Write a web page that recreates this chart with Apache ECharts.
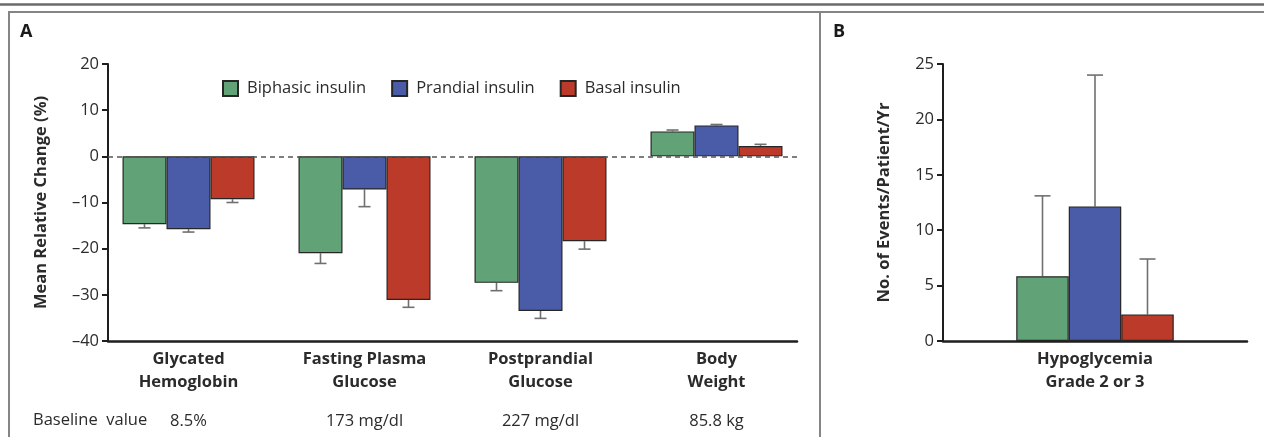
<!DOCTYPE html>
<html>
<head>
<meta charset="utf-8">
<script src="https://cdn.jsdelivr.net/npm/echarts@6/dist/echarts.min.js"></script>
<style>
  html, body { margin: 0; padding: 0; background: #ffffff; }
  #chart { width: 1264px; height: 437px; }
</style>
</head>
<body>
<div id="chart"></div>
<script>
// Panel A: mean relative change (%) from baseline, by insulin regimen
const categories = ['Glycated\nHemoglobin', 'Fasting Plasma\nGlucose', 'Postprandial\nGlucose', 'Body\nWeight'];
const baselineValues = ['8.5%', '173 mg/dl', '227 mg/dl', '85.8 kg'];
const seriesNames = ['Biphasic insulin', 'Prandial insulin', 'Basal insulin'];
const biphasicChange = [-14.7, -21.0, -27.4, 5.4];
const prandialChange = [-15.8, -7.2, -33.5, 6.7];
const basalChange = [-9.3, -31.1, -18.4, 2.25];
// whisker end points (bar value plus error)
const biphasicWhisker = [-15.5, -23.2, -29.1, 5.7];
const prandialWhisker = [-16.4, -10.9, -35.1, 6.9];
const basalWhisker = [-10.0, -32.7, -20.1, 2.6];

// Panel B: hypoglycemia events per patient per year
const hypoCategory = ['Hypoglycemia\nGrade 2 or 3'];
const hypoEvents = [5.85, 12.15, 2.4];
const hypoWhisker = [13.1, 24.0, 7.4];

const colors = ['#62a277', '#4a5ca8', '#bb3a29'];
const FONT = 'Open Sans';
const FS = 16.5;
const TEXT = '#2b2b2b';
const AXIS = '#1e1e1e';

const changeSeries = [biphasicChange, prandialChange, basalChange];
const changeWhiskers = [biphasicWhisker, prandialWhisker, basalWhisker];

function minusSign(v) { return String(v).replace('-', '\u2013'); }

function whiskerRenderer(barWidth, capWidth) {
  return function (params, api) {
    const cat = api.value(0);
    const slot = api.value(1);
    const start = api.coord([cat, api.value(2)]);
    const end = api.coord([cat, api.value(3)]);
    const x = start[0] + (slot - 1) * barWidth;
    const style = { stroke: '#707070', lineWidth: 1.6 };
    return {
      type: 'group',
      children: [
        { type: 'line', shape: { x1: x, y1: start[1], x2: x, y2: end[1] }, style: style },
        { type: 'line', shape: { x1: x - capWidth / 2, y1: end[1], x2: x + capWidth / 2, y2: end[1] }, style: style }
      ]
    };
  };
}

const whiskerDataA = [];
changeSeries.forEach(function (vals, s) {
  vals.forEach(function (v, i) { whiskerDataA.push([i, s, v, changeWhiskers[s][i]]); });
});
const whiskerDataB = hypoEvents.map(function (v, s) { return [0, s, v, hypoWhisker[s]]; });

const barStyle = function (s) {
  return { color: colors[s], borderColor: '#262626', borderWidth: 1.2 };
};

const yTickLabel = { fontFamily: FONT, fontSize: FS, color: TEXT, margin: 9, formatter: minusSign };
const yAxisLine = { show: true, lineStyle: { color: AXIS, width: 2 } };
const yTicks = { show: true, length: 6, lineStyle: { color: AXIS, width: 2 } };
const yName = { fontFamily: FONT, fontSize: FS, fontWeight: 'bold', color: TEXT };

const chart = echarts.init(document.getElementById('chart'), null, { renderer: 'canvas' });

const series = [];
changeSeries.forEach(function (vals, s) {
  series.push({
    name: seriesNames[s], type: 'bar', xAxisIndex: 1, yAxisIndex: 1,
    data: vals, barWidth: 44, barGap: '0%', itemStyle: barStyle(s), z: 3,
    emphasis: { disabled: true }
  });
});
series.push({
  type: 'custom', xAxisIndex: 1, yAxisIndex: 1, data: whiskerDataA,
  encode: { x: 0, y: [2, 3] }, renderItem: whiskerRenderer(44, 12), z: 2, silent: true
});
// zero reference line across the plot of panel A
series.push({
  type: 'line', xAxisIndex: 0, yAxisIndex: 0, data: [], silent: true,
  markLine: {
    silent: true, symbol: 'none', label: { show: false },
    lineStyle: { color: '#555', type: [5, 4], width: 1.5 },
    data: [{ yAxis: 0 }]
  }
});
hypoEvents.forEach(function (v, s) {
  series.push({
    name: seriesNames[s], type: 'bar', xAxisIndex: 2, yAxisIndex: 2,
    data: [v], barWidth: 52.5, barGap: '0%', itemStyle: barStyle(s), z: 3,
    emphasis: { disabled: true }
  });
});
series.push({
  type: 'custom', xAxisIndex: 2, yAxisIndex: 2, data: whiskerDataB,
  encode: { x: 0, y: [2, 3] }, renderItem: whiskerRenderer(52.5, 16), z: 2, silent: true
});

const categoryRich = {
  n: { fontFamily: FONT, fontSize: FS, fontWeight: 'bold', color: TEXT, lineHeight: 23 },
  v: { fontFamily: FONT, fontSize: FS, fontWeight: 'normal', color: TEXT, lineHeight: 54 }
};

const option = {
  animation: false,
  backgroundColor: '#ffffff',
  textStyle: { fontFamily: FONT },
  legend: {
    data: seriesNames, left: 222, top: 80, padding: 0, icon: 'rect',
    itemWidth: 15, itemHeight: 15, itemGap: 25,
    textStyle: { fontFamily: FONT, fontSize: FS, color: TEXT, padding: [0, 0, 0, 4] },
    selectedMode: false
  },
  grid: [
    { left: 108, top: 64, width: 689, height: 277 },
    { left: 100.5, top: 64, width: 704, height: 277 },
    { left: 943, top: 64, width: 304, height: 277 }
  ],
  xAxis: [
    { type: 'category', gridIndex: 0, data: categories,
      axisLine: { show: true, onZero: false, lineStyle: { color: AXIS, width: 2.5 } }, axisTick: { show: false },
      axisLabel: { show: false }, splitLine: { show: false } },
    { type: 'category', gridIndex: 1, data: categories,
      axisLine: { show: false, onZero: false }, axisTick: { show: false },
      axisLabel: {
        margin: 7,
        formatter: function (value, index) {
          const lines = value.split('\n').map(function (t) { return '{n|' + t + '}'; });
          return lines.join('\n') + '\n{v|' + baselineValues[index] + '}';
        },
        rich: categoryRich
      } },
    { type: 'category', gridIndex: 2, data: hypoCategory,
      axisLine: { show: true, onZero: false, lineStyle: { color: AXIS, width: 2.5 } }, axisTick: { show: false },
      axisLabel: { fontFamily: FONT, fontSize: FS, fontWeight: 'bold', color: TEXT, margin: 7, lineHeight: 23 } }
  ],
  yAxis: [
    { type: 'value', gridIndex: 0, min: -40, max: 20, interval: 10,
      name: 'Mean Relative Change (%)', nameLocation: 'middle', nameGap: 58, nameTextStyle: yName,
      axisLine: yAxisLine, axisTick: yTicks, axisLabel: yTickLabel, splitLine: { show: false } },
    { type: 'value', gridIndex: 1, min: -40, max: 20, interval: 10, show: false, splitLine: { show: false } },
    { type: 'value', gridIndex: 2, min: 0, max: 25, interval: 5,
      name: 'No. of Events/Patient/Yr', nameLocation: 'middle', nameGap: 50, nameTextStyle: yName,
      axisLine: yAxisLine, axisTick: yTicks, axisLabel: yTickLabel, splitLine: { show: false } }
  ],
  graphic: [
    { type: 'line', shape: { x1: 0, y1: 4.5, x2: 1264, y2: 4.5 }, style: { stroke: '#6a6a6a', lineWidth: 2.5 } },
    { type: 'line', shape: { x1: 8, y1: 12, x2: 1264, y2: 12 }, style: { stroke: '#858585', lineWidth: 2 } },
    { type: 'line', shape: { x1: 9, y1: 12, x2: 9, y2: 437 }, style: { stroke: '#858585', lineWidth: 2 } },
    { type: 'line', shape: { x1: 820, y1: 12, x2: 820, y2: 437 }, style: { stroke: '#858585', lineWidth: 2 } },
    { type: 'text', left: 20, top: 23, style: { text: 'A', fontFamily: FONT, fontSize: 18, fontWeight: 'bold', fill: '#1a1a1a' } },
    { type: 'text', left: 833, top: 23, style: { text: 'B', fontFamily: FONT, fontSize: 18, fontWeight: 'bold', fill: '#1a1a1a' } },
    { type: 'text', left: 33, top: 412, style: { text: 'Baseline  value', fontFamily: FONT, fontSize: FS, fill: TEXT } }
  ],
  series: series
};

chart.setOption(option);
</script>
</body>
</html>
